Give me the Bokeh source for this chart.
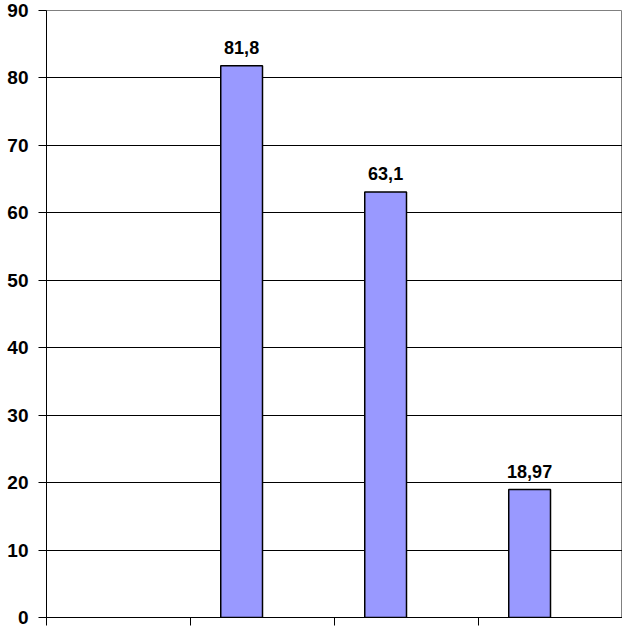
from bokeh.plotting import figure
from bokeh.models import ColumnDataSource, FixedTicker
from bokeh.embed import file_html
from bokeh.resources import INLINE
from bokeh.core.properties import value

# ---- data ----
categories = [0, 1, 2, 3]
values = [float("nan"), 81.8, 63.1, 18.97]
value_labels = ["", "81,8", "63,1", "18,97"]
y_ticks = [0, 10, 20, 30, 40, 50, 60, 70, 80, 90]
x_ticks = [0, 1, 2, 3, 4]

bar_width = 0.29
bar_x = [c + 0.5 - bar_width / 2 for c in categories]

src = ColumnDataSource(dict(x=bar_x, top=values, label=value_labels))

p = figure(width=622, height=626, x_range=(0, 4), y_range=(0, 90),
           output_backend="svg", toolbar_location=None,
           min_border_left=46, min_border_right=0,
           min_border_top=10, min_border_bottom=9)

p.background_fill_color = "white"
p.border_fill_color = "white"
p.outline_line_color = "#808080"
p.outline_line_width = 1

# grid
p.xgrid.grid_line_color = None
p.ygrid.ticker = FixedTicker(ticks=y_ticks[:-1])
p.ygrid.grid_line_color = "black"
p.ygrid.grid_line_width = 1
p.ygrid.grid_line_alpha = 1

# bars
p.vbar(x="x", top="top", bottom=0, width=bar_width, source=src,
       fill_color="#9999FF", line_color="#000000", line_width=1.5)

# value labels
p.text(x="x", y="top", text="label", source=src,
       text_align="center", text_baseline="bottom", y_offset=-12,
       text_font=value("Liberation Sans"), text_font_style="bold",
       text_font_size="18px", text_color="black")

# y axis
ya = p.yaxis[0]
ya.ticker = FixedTicker(ticks=y_ticks)
ya.axis_line_color = "black"
ya.major_tick_line_color = "black"
ya.major_tick_in = 0
ya.major_tick_out = 8
ya.minor_tick_line_color = None
ya.major_label_standoff = 10
ya.major_label_text_font = "Liberation Sans"
ya.major_label_text_font_style = "bold"
ya.major_label_text_font_size = "19px"
ya.major_label_text_color = "black"

# x axis (ticks only, no labels)
xa = p.xaxis[0]
xa.ticker = FixedTicker(ticks=x_ticks)
xa.axis_line_color = "black"
xa.major_tick_line_color = "black"
xa.major_tick_in = 0
xa.major_tick_out = 8
xa.minor_tick_line_color = None
xa.major_label_overrides = {t: "" for t in x_ticks}
xa.major_label_standoff = 0

open("out.html", "w").write(file_html(p, INLINE))
